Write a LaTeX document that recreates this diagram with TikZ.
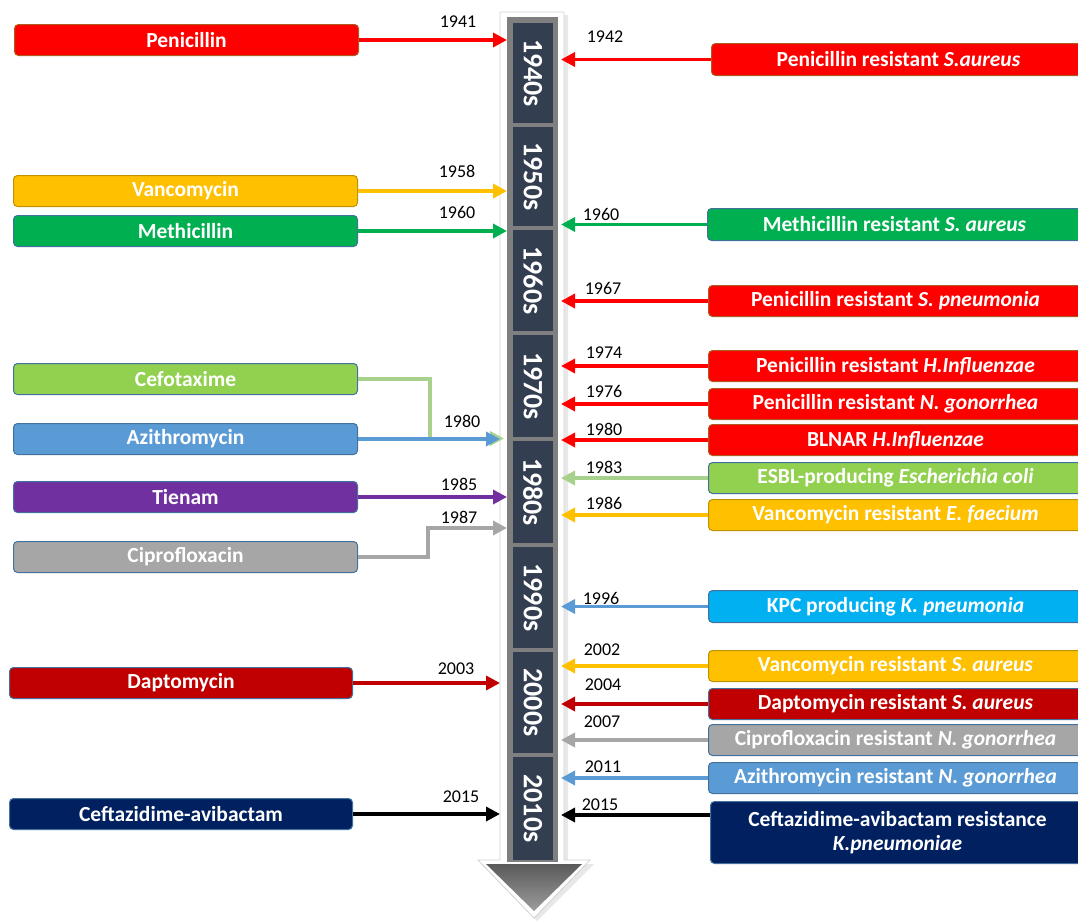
\documentclass[tikz,border=0pt]{standalone}
\usepackage{fontspec}
\setmainfont{Carlito}
\usetikzlibrary{arrows.meta,calc}
\definecolor{cRed}{HTML}{FF0000}
\definecolor{cRedB}{RGB}{174,90,33}
\definecolor{cAmber}{HTML}{FFC000}
\definecolor{cAmberB}{RGB}{190,145,0}
\definecolor{cGreen}{HTML}{00B050}
\definecolor{cLGreen}{HTML}{92D050}
\definecolor{cLGreenA}{HTML}{A9D18E}
\definecolor{cBlue}{HTML}{5B9BD5}
\definecolor{cPurple}{HTML}{7030A0}
\definecolor{cGray}{HTML}{A6A6A6}
\definecolor{cDRed}{HTML}{C00000}
\definecolor{cNavy}{HTML}{002060}
\definecolor{cCyan}{HTML}{00B0F0}
\definecolor{cBorder}{HTML}{41719C}
\definecolor{tlNavy}{HTML}{333F50}
\definecolor{tlFrame}{HTML}{7F7F7F}
\definecolor{headTop}{HTML}{5A5A5A}
\definecolor{headBot}{HTML}{9C9C9C}
\tikzset{
  bx/.style={rounded corners=4pt, minimum height=31pt, inner sep=0pt, text=white,
    font=\bfseries\fontsize{21.5}{23}\selectfont, draw=cBorder, line width=1pt, anchor=north west},
  lbx/.style={bx, minimum width=344pt},
  rbx/.style={bx, minimum width=374pt},
  yr/.style={font=\fontsize{18}{19}\selectfont, inner sep=0pt},
  conn/.style={line width=3.4pt, -{Triangle[length=14pt,width=14pt]}},
  decade/.style={fill=tlNavy, text=white, font=\bfseries\fontsize{28}{29}\selectfont,
    rotate=-90, minimum height=40pt, inner sep=0pt},
}
\begin{document}
\begin{tikzpicture}[x=1pt,y=-1pt]
\path[use as bounding box] (0,0) rectangle (1078,921);
\clip (0,0) rectangle (1078,921);

% ---------- timeline arrow ----------
\fill[gray!18] (504,15) -- (568,15) -- (568,864) -- (594,864) -- (537,921) -- (481,864) -- (504,864) -- cycle;
\path[fill=white, draw=gray!35, line width=0.8pt]
  (500,12) -- (564,12) -- (564,860) -- (590,860) -- (534,918) -- (478,860) -- (500,860) -- cycle;
\fill[tlFrame] (507,17) rectangle (558,862);
\shade[top color=headTop, bottom color=headBot] (486,864) -- (582,864) -- (534,911) -- cycle;

\node[decade, minimum width=100pt] (d40) at (533,73)    {1940s};
\node[decade, minimum width=99pt]  (d50) at (533,176.5) {1950s};
\node[decade, minimum width=101pt] (d60) at (533,280.5) {1960s};
\node[decade, minimum width=102pt] (d70) at (533,386)   {1970s};
\node[decade, minimum width=102pt] (d80) at (533,492)   {1980s};
\node[decade, minimum width=101pt] (d90) at (533,597.5) {1990s};
\node[decade, minimum width=101pt] (d00) at (533,702.5) {2000s};
\node[decade, minimum width=103pt] (d10) at (533,808.5) {2010s};

\coordinate (L) at (507,0);
\coordinate (Lg) at (504,0);
\coordinate (Lb) at (500,0);
\coordinate (R) at (561,0);

% ---------- left boxes ----------
\node[lbx, fill=cRed, draw=cRedB] (pen) at (14,24) {Penicillin};
\node[lbx, fill=cAmber, draw=cAmberB] (van) at (13,175) {Vancomycin};
\node[lbx, fill=cGreen] (met) at (13,215) {Methicillin};
\node[lbx, fill=cLGreen] (cef) at (13,363) {Cefotaxime};
\node[lbx, fill=cBlue] (azi) at (13,423) {Azithromycin};
\node[lbx, fill=cPurple] (tie) at (13,481) {Tienam};
\node[lbx, fill=cGray] (cip) at (13,541) {Ciprofloxacin};
\node[lbx, fill=cDRed, minimum width=343pt] (dap) at (9,667) {Daptomycin};
\node[lbx, fill=cNavy, minimum width=343pt] (caz) at (9,798) {Ceftazidime-avibactam};

\coordinate (cefturn) at (430,438.5);
\coordinate (cipturn) at (428,528);

\draw[conn, cRed] (pen.east) -- (pen.east -| L);
\draw[conn, cAmber] (van.east) -- (van.east -| L);
\draw[conn, cGreen] (met.east) -- (met.east -| L);
\draw[conn, cLGreenA] (cef.east) -| (cefturn) -- (cefturn -| Lg);
\draw[conn, cBlue] (azi.east) -- (azi.east -| Lb);
\draw[conn, cPurple] (tie.east) -- (tie.east -| L);
\draw[conn, cGray] (cip.east) -| (cipturn) -- (cipturn -| L);
\draw[conn, cDRed] (dap.east) -- (dap.east -| Lb);
\draw[conn, black] (caz.east) -- (caz.east -| Lb);

\node[yr] (y41) at (458,22) {1941};
\node[yr] (y58) at (457,171) {1958};
\node[yr] (y60l) at (457,212) {1960};
\node[yr] (y80l) at (462,421) {1980};
\node[yr] (y85) at (459,484) {1985};
\node[yr] (y87) at (459,517) {1987};
\node[yr] (y03) at (456,669) {2003};
\node[yr] (y15l) at (461,797) {2015};

% ---------- right boxes ----------
\node[rbx, fill=cRed, draw=cRedB, minimum height=32pt] (prsa) at (711,43) {Penicillin resistant \textit{S.aureus}};
\node[rbx, fill=cGreen, minimum height=32pt] (mrsa) at (707,208) {Methicillin resistant \textit{S. aureus}};
\node[rbx, fill=cRed, draw=cRedB] (prsp) at (708,285) {Penicillin resistant \textit{S. pneumonia}};
\node[rbx, fill=cRed, draw=cRedB] (prhi) at (708,350) {Penicillin resistant \textit{H.Influenzae}};
\node[rbx, fill=cRed, draw=cRedB] (prng) at (708,388) {Penicillin resistant \textit{N. gonorrhea}};
\node[rbx, fill=cRed, draw=cRedB] (blnar) at (708,424) {BLNAR \textit{H.Influenzae}};
\node[rbx, fill=cLGreen] (esbl) at (708,462) {ESBL-producing \textit{Escherichia coli}};
\node[rbx, fill=cAmber, draw=cAmberB] (vref) at (708,499) {Vancomycin resistant \textit{E. faecium}};
\node[rbx, fill=cCyan, minimum height=32pt] (kpc) at (708,590) {KPC producing \textit{K. pneumonia}};
\node[rbx, fill=cAmber, draw=cAmberB] (vrsa) at (708,650) {Vancomycin resistant \textit{S. aureus}};
\node[rbx, fill=cDRed] (drsa) at (708,688) {Daptomycin resistant \textit{S. aureus}};
\node[rbx, fill=cGray] (crng) at (708,724) {Ciprofloxacin resistant \textit{N. gonorrhea}};
\node[rbx, fill=cBlue] (arng) at (708,762) {Azithromycin resistant \textit{N. gonorrhea}};
\node[rbx, fill=cNavy, minimum height=62pt, align=center] (cazr) at (710,801)
  {Ceftazidime-avibactam resistance\\[1pt]\textit{K.pneumoniae}};

\draw[conn, cRed] (prsa.west) -- (prsa.west -| R);
\draw[conn, cGreen] (mrsa.west) -- (mrsa.west -| R);
\draw[conn, cRed] (prsp.west) -- (prsp.west -| R);
\draw[conn, cRed] (prhi.west) -- (prhi.west -| R);
\draw[conn, cRed] (prng.west) -- (prng.west -| R);
\draw[conn, cRed] (blnar.west) -- (blnar.west -| R);
\draw[conn, cLGreenA] (esbl.west) -- (esbl.west -| R);
\draw[conn, cAmber] (vref.west) -- (vref.west -| R);
\draw[conn, cBlue] (kpc.west) -- (kpc.west -| R);
\draw[conn, cAmber] (vrsa.west) -- (vrsa.west -| R);
\draw[conn, cDRed] (drsa.west) -- (drsa.west -| R);
\draw[conn, cGray] (crng.west) -- (crng.west -| R);
\draw[conn, cBlue] (arng.west) -- (arng.west -| R);
\coordinate (cazry) at (0,815);
\draw[conn, black] (cazry -| cazr.west) -- (cazry -| R);

\node[yr] (y42) at (605,37) {1942};
\node[yr] (y60r) at (601,214) {1960};
\node[yr] (y67) at (603,288) {1967};
\node[yr] (y74) at (604,353) {1974};
\node[yr] (y76) at (604,391) {1976};
\node[yr] (y80r) at (604,429) {1980};
\node[yr] (y83) at (604,467) {1983};
\node[yr] (y86) at (604,503) {1986};
\node[yr] (y96) at (601,598) {1996};
\node[yr] (y02) at (602,650) {2002};
\node[yr] (y04) at (603,685) {2004};
\node[yr] (y07) at (602,722) {2007};
\node[yr] (y11) at (603,767) {2011};
\node[yr] (y15r) at (600,805) {2015};
\end{tikzpicture}
\end{document}
